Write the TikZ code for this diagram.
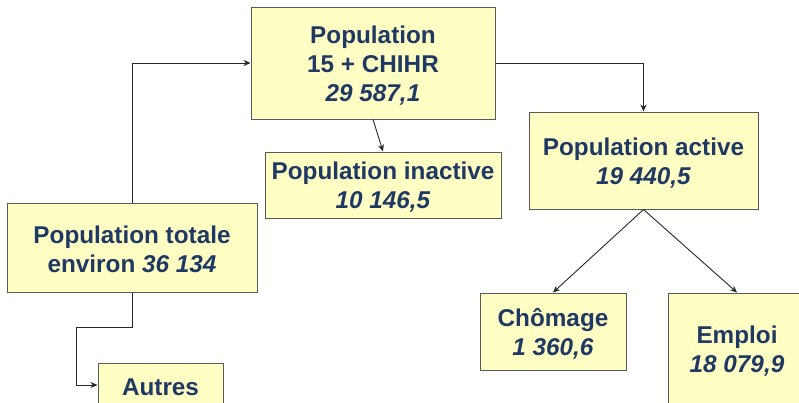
\documentclass[tikz,border=0pt]{standalone}
\usepackage{fontspec}
\setmainfont{Liberation Sans}
\usetikzlibrary{arrows.meta}
\definecolor{boxfill}{RGB}{255,255,196}
\definecolor{boxdraw}{RGB}{90,90,90}
\definecolor{txt}{RGB}{31,56,100}
\newcommand\tup{\rule{0pt}{22pt}}
\tikzset{
  box/.style={draw=boxdraw, line width=1pt, fill=boxfill, rectangle, inner sep=0pt,
    align=center, text=txt, font=\fontsize{24.3}{29}\selectfont\bfseries},
  conn/.style={draw=black!85, line width=0.9pt, -{Stealth[length=7pt,width=6pt]}}
}
\begin{document}
\begin{tikzpicture}[x=1pt,y=-1pt]
\useasboundingbox (0,0) rectangle (799,402);
\begin{scope}
\clip (0,0) rectangle (799,402);
\node[box, minimum width=244pt, minimum height=112pt] (top) at (373,63) {\tup Population\\15 + CHIHR\\\textit{29 587,1}};
\node[box, minimum width=236pt, minimum height=66pt] (inactive) at (383,185) {\tup Population inactive\\\textit{10 146,5}};
\node[box, minimum width=229pt, minimum height=97pt] (active) at (643.5,160.5) {\tup Population active\\\textit{19 440,5}};
\node[box, minimum width=146pt, minimum height=77pt] (chom) at (553,331.5) {\tup Chômage\\\textit{1 360,6}};
\node[box, minimum width=138pt, minimum height=112pt] (emploi) at (737,349) {\tup Emploi\\\textit{18 079,9}};
\node[box, minimum width=250pt, minimum height=89pt] (totale) at (132,247.5) {\tup Population totale\\environ \textit{36 134}};
\node[box, minimum width=125pt, minimum height=44pt] (autres) at (160.5,385) {\tup Autres};
\coordinate (b1) at (76,327);
\draw[conn] (top.south) -- (inactive.north);
\draw[conn] (top.east) -| (active.north);
\draw[conn] (totale.north) |- (top.west);
\draw[conn] (active.south) -- (chom.north);
\draw[conn] (active.south) -- (emploi.north);
\draw[conn] (totale.south) |- (b1) |- (autres.west);
\end{scope}
\end{tikzpicture}
\end{document}
